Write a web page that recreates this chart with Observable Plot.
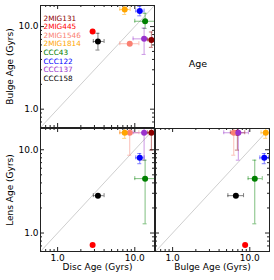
<!DOCTYPE html>
<html><head><meta charset="utf-8">
<script src="https://cdn.jsdelivr.net/npm/d3@7"></script>
<script src="https://cdn.jsdelivr.net/npm/@observablehq/plot@0.6"></script>
<style>
body{margin:0;background:#fff;}
#wrap{position:relative;width:274px;height:280px;font-family:"DejaVu Sans",sans-serif;}
#wrap svg{position:absolute;left:0;top:0;}
#age{position:absolute;left:198px;top:63px;transform:translate(-50%,-50%);font-size:9.5px;color:#000;}
</style></head><body><div id="wrap"><div id="age">Age</div></div>
<script>
// ---- data ----
const names  = ["2MIG131","2MIG445","2MIG1546","2MIG1814","CCC43","CCC122","CCC137","CCC158"];
const colors = ["darkred","red","salmon","orange","green","blue","darkorchid","black"];
const disc    = [16.4, 2.84, 8.6, 7.4, 13.6, 11.6, 13.2, 3.33];
const discLo  = [14.6, null, 6.4, 6.4, 10.0, 10.3, 9.5, 2.9];
const discHi  = [22.0, null, 11.3, 8.7, 19.0, 13.2, 16.9, 4.0];
const bulge   = [6.9, 8.7, 6.2, 16.1, 11.6, 15.4, 7.1, 6.6];
const bulgeLo = [5.6, null, null, 14.0, 9.5, 13.5, 4.6, 5.2];
const bulgeHi = [8.6, null, null, 18.5, 14.5, 17.5, 9.6, 8.3];
const lens    = [16.0, 0.72, 16.0, 16.0, 4.5, 8.0, 16.0, 2.81];
const lensLo  = [9.9, null, 8.6, 13.7, 1.29, 6.8, 7.5, null];
const lensHi  = [30, null, 30, 19.5, 7.5, 9.0, 30, null];
const axisDomain = [0.6, 18];
const majorTicks = [1, 10];
const minorTicks = [0.7, 0.8, 0.9, 2, 3, 4, 5, 6, 7, 8, 9];
const diag = [0.6, 18];

const rows = names.map((n, i) => ({
  name: n, color: colors[i],
  disc: disc[i], discLo: discLo[i], discHi: discHi[i],
  bulge: bulge[i], bulgeLo: bulgeLo[i], bulgeHi: bulgeHi[i],
  lens: lens[i], lensLo: lensLo[i], lensHi: lensHi[i]
}));

const W = 274, H = 280;

function panel({xKey, yKey, left, right, top, bottom, xAxis, yAxis, xLabel, yLabel, legend}) {
  const fw = W - left - right, fh = H - top - bottom;
  const marks = [];
  marks.push(Plot.line(diag, {x: d => d, y: d => d, stroke: "#cfcfcf", strokeWidth: 1}));
  // inward ticks on all sides
  const tk = "#222";
  marks.push(Plot.ruleX(majorTicks, {x: d => d, insetTop: fh - 4, stroke: tk}));
  marks.push(Plot.ruleX(majorTicks, {x: d => d, insetBottom: fh - 4, stroke: tk}));
  marks.push(Plot.ruleX(minorTicks, {x: d => d, insetTop: fh - 2, stroke: tk}));
  marks.push(Plot.ruleX(minorTicks, {x: d => d, insetBottom: fh - 2, stroke: tk}));
  marks.push(Plot.ruleY(majorTicks, {y: d => d, insetRight: fw - 4, stroke: tk}));
  marks.push(Plot.ruleY(majorTicks, {y: d => d, insetLeft: fw - 4, stroke: tk}));
  marks.push(Plot.ruleY(minorTicks, {y: d => d, insetRight: fw - 2, stroke: tk}));
  marks.push(Plot.ruleY(minorTicks, {y: d => d, insetLeft: fw - 2, stroke: tk}));
  // error bars
  const xe = rows.filter(d => d[xKey + "Lo"] != null);
  const ye = rows.filter(d => d[yKey + "Lo"] != null);
  const eb = {stroke: "color", strokeOpacity: 0.5, strokeWidth: 1, clip: true};
  marks.push(Plot.ruleY(xe, {y: yKey, x1: xKey + "Lo", x2: xKey + "Hi", ...eb}));
  marks.push(Plot.ruleX(xe, {x: xKey + "Lo", y1: yKey, y2: yKey, insetTop: -2, insetBottom: -2, ...eb}));
  marks.push(Plot.ruleX(xe, {x: xKey + "Hi", y1: yKey, y2: yKey, insetTop: -2, insetBottom: -2, ...eb}));
  marks.push(Plot.ruleX(ye, {x: xKey, y1: yKey + "Lo", y2: yKey + "Hi", ...eb}));
  marks.push(Plot.ruleY(ye, {y: yKey + "Lo", x1: xKey, x2: xKey, insetLeft: -2, insetRight: -2, ...eb}));
  marks.push(Plot.ruleY(ye, {y: yKey + "Hi", x1: xKey, x2: xKey, insetLeft: -2, insetRight: -2, ...eb}));
  // points
  marks.push(Plot.dot(rows, {x: xKey, y: yKey, fill: "color", r: 3, clip: true}));
  marks.push(Plot.frame({stroke: "#222", strokeWidth: 1}));
  if (xLabel) marks.push(Plot.text([xLabel], {text: d => d, frameAnchor: "bottom", textAnchor: "middle", dy: 18.5, fontSize: 9, fill: "#000"}));
  if (yLabel) marks.push(Plot.text([yLabel], {text: d => d, frameAnchor: "left", textAnchor: "middle", dx: -30, rotate: -90, fontSize: 9, fill: "#000"}));
  if (legend) names.forEach((n, i) => {
    marks.push(Plot.text([n], {text: d => d, frameAnchor: "top-left", textAnchor: "start", dx: 3, dy: 10 + i * 8.6, fill: colors[i], fontSize: 7.3}));
  });
  return Plot.plot({
    width: W, height: H,
    marginLeft: left, marginRight: right, marginTop: top, marginBottom: bottom,
    style: {fontFamily: "DejaVu Sans, sans-serif", fontSize: "9px", background: "transparent", overflow: "visible", color: "#000"},
    color: {type: "identity"},
    x: {type: "log", domain: axisDomain, axis: xAxis ? "bottom" : null, ticks: majorTicks, tickFormat: d => d.toFixed(1), tickSize: 0, tickPadding: 3, label: null},
    y: {type: "log", domain: axisDomain, axis: yAxis ? "left" : null, ticks: majorTicks, tickFormat: d => d.toFixed(1), tickSize: 0, tickPadding: 2, label: null},
    marks
  });
}

const wrap = document.getElementById("wrap");
wrap.appendChild(panel({xKey: "disc", yKey: "bulge", left: 40, right: 120, top: 5, bottom: 153, xAxis: false, yAxis: true, yLabel: "Bulge Age (Gyrs)", legend: true}));
wrap.appendChild(panel({xKey: "disc", yKey: "lens", left: 40, right: 120, top: 128, bottom: 29, xAxis: true, yAxis: true, xLabel: "Disc Age (Gyrs)", yLabel: "Lens Age (Gyrs)"}));
wrap.appendChild(panel({xKey: "bulge", yKey: "lens", left: 155, right: 5, top: 128, bottom: 29, xAxis: true, yAxis: false, xLabel: "Bulge Age (Gyrs)"}));
</script></body></html>
